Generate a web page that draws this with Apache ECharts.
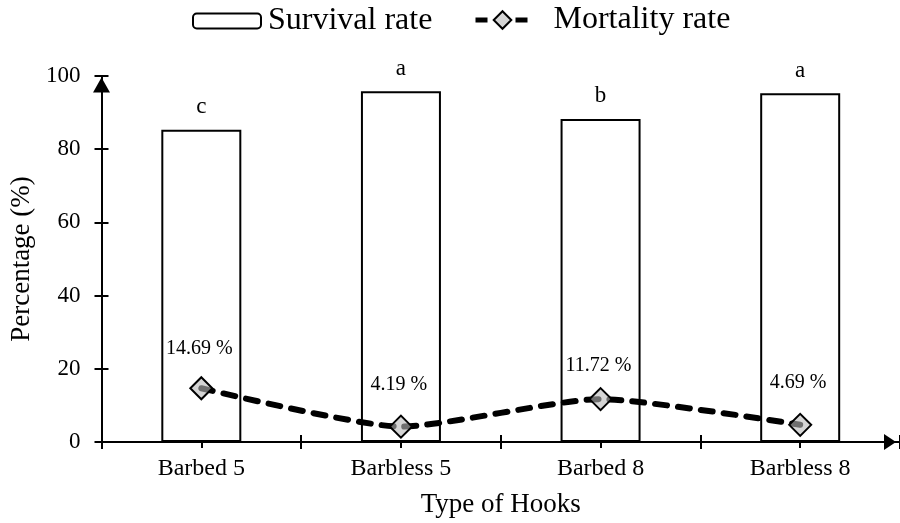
<!DOCTYPE html>
<html>
<head>
<meta charset="utf-8">
<script src="https://cdn.jsdelivr.net/npm/echarts@6/dist/echarts.min.js"></script>
<style>
  html, body { margin: 0; padding: 0; background: #ffffff; }
  #chart { width: 900px; height: 523px; }
</style>
</head>
<body>
<div id="chart"></div>
<script>
// Hook types on the category axis
const hookTypes = ['Barbed 5', 'Barbless 5', 'Barbed 8', 'Barbless 8'];
// Survival rate (%) per hook type, drawn as open bars
const survivalRate = [85.31, 95.81, 88.28, 95.31];
// Significance letters shown above each bar
const groupLetters = ['c', 'a', 'b', 'a'];
// Mortality rate (%) per hook type, drawn as a dashed line
const mortalityRate = [14.69, 4.19, 11.72, 4.69];
// Value-axis ticks
const yMin = 0, yMax = 100, yStep = 20;

// Extra lift of each mortality label above its marker (px)
const labelLift = [17, 20, 11, 20];

const FONT = '"Liberation Serif", "Times New Roman", serif';

const chart = echarts.init(document.getElementById('chart'), null, { renderer: 'canvas' });

const catAxisBase = {
  type: 'category',
  data: hookTypes,
  gridIndex: 0,
  position: 'bottom'
};

chart.setOption({
  backgroundColor: '#ffffff',
  animation: false,
  textStyle: { fontFamily: FONT, color: '#000' },
  legend: [
    {
      data: ['Survival rate'],
      left: 192, top: 5, padding: 0,
      itemWidth: 68, itemHeight: 15,
      textStyle: { fontFamily: FONT, fontSize: 32, color: '#000', padding: [0, 0, 0, 2] }
    },
    {
      data: ['Mortality rate'],
      left: 473, top: 4, padding: 0,
      itemWidth: 54, itemHeight: 22,
      lineStyle: { width: 5, type: [12, 28], cap: 'butt', color: '#000' },
      textStyle: { fontFamily: FONT, fontSize: 32, color: '#000', padding: [0, 0, 0, 19] }
    }
  ],
  grid: { left: 101.5, top: 76, width: 802.8, height: 367.3, containLabel: false },
  xAxis: [
    Object.assign({}, catAxisBase, {
      name: 'Type of Hooks',
      nameLocation: 'middle',
      nameGap: 49,
      nameTextStyle: { fontFamily: FONT, fontSize: 27, color: '#000' },
      axisLine: {
        show: true, onZero: false,
        symbol: ['none', 'triangle'],
        symbolSize: [16, 12],
        symbolOffset: [0, -10],
        lineStyle: { color: '#000', width: 2 }
      },
      axisTick: { show: true, alignWithLabel: true, inside: false, length: 6, lineStyle: { color: '#000', width: 2 } },
      axisLabel: { show: true, margin: 15, fontFamily: FONT, fontSize: 24, color: '#000' },
      splitLine: { show: false }
    }),
    Object.assign({}, catAxisBase, {
      axisLine: { show: false, onZero: false },
      axisTick: { show: true, inside: true, length: 7, interval: 0, lineStyle: { color: '#000', width: 2 } },
      axisLabel: { show: false },
      splitLine: { show: false }
    }),
    Object.assign({}, catAxisBase, {
      axisLine: { show: false, onZero: false },
      axisTick: { show: true, inside: false, length: 7, interval: 0, lineStyle: { color: '#000', width: 2 } },
      axisLabel: { show: false },
      splitLine: { show: false }
    })
  ],
  yAxis: [
    {
      type: 'value', position: 'left',
      min: yMin, max: yMax, interval: yStep,
      name: 'Percentage (%)',
      nameLocation: 'middle',
      nameGap: 64,
      nameRotate: 90,
      nameTextStyle: { fontFamily: FONT, fontSize: 27, color: '#000' },
      axisLine: {
        show: true, onZero: false,
        symbol: ['none', 'triangle'],
        symbolSize: [17, 15],
        symbolOffset: [0, -9],
        lineStyle: { color: '#000', width: 2 }
      },
      axisTick: { show: true, inside: false, length: 7, lineStyle: { color: '#000', width: 2 } },
      axisLabel: { show: true, margin: 21, fontFamily: FONT, fontSize: 23, color: '#000' },
      splitLine: { show: false }
    },
    {
      type: 'value', position: 'left',
      min: yMin, max: yMax, interval: yStep,
      axisLine: { show: false, onZero: false },
      axisTick: { show: true, inside: true, length: 7, lineStyle: { color: '#000', width: 2 } },
      axisLabel: { show: false },
      splitLine: { show: false }
    }
  ],
  series: [
    {
      name: 'Survival rate',
      type: 'bar',
      xAxisIndex: 0, yAxisIndex: 0,
      data: survivalRate,
      barWidth: 80,
      itemStyle: { color: 'rgba(255,255,255,0)', borderColor: '#000', borderWidth: 2 },
      label: {
        show: true, position: 'top', distance: 11,
        fontFamily: FONT, fontSize: 23, color: '#000',
        formatter: p => groupLetters[p.dataIndex]
      },
      z: 2
    },
    {
      name: 'Mortality rate',
      type: 'line',
      xAxisIndex: 0, yAxisIndex: 0,
      data: mortalityRate.map((v, i) => ({
        value: v,
        label: { distance: labelLift[i] }
      })),
      smooth: 0.2,
      symbol: 'diamond',
      symbolSize: 22,
      itemStyle: { color: 'rgba(185,185,185,0.6)', borderColor: '#000', borderWidth: 2 },
      lineStyle: { color: '#000', width: 6, type: [12, 11], cap: 'round' },
      label: {
        show: true, position: 'top', offset: [-2, 0],
        fontFamily: FONT, fontSize: 20, color: '#000',
        formatter: p => p.value.toFixed(2) + ' %'
      },
      z: 5
    }
  ]
});
</script>
</body>
</html>
